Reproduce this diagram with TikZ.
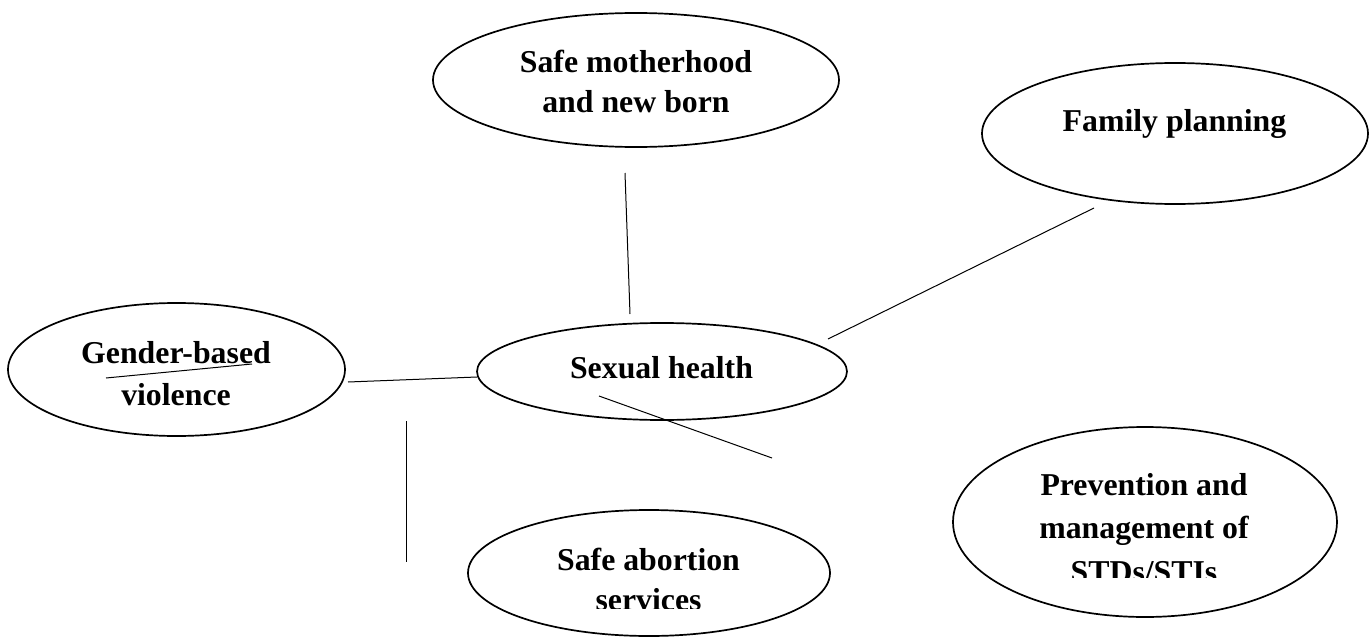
\documentclass[tikz,border=0pt]{standalone}
\usepackage{fontspec}
\setmainfont{Liberation Serif}
\usetikzlibrary{shapes.geometric}
\tikzset{
  bubble/.style={draw, ellipse, line width=1.7pt, inner sep=0pt},
  lbl/.style={anchor=base, inner sep=0pt, font=\fontsize{31.8}{38}\selectfont\bfseries},
  conn/.style={line width=1pt},
}
\begin{document}
\begin{tikzpicture}[x=1pt,y=-1pt]
\useasboundingbox (0,0) rectangle (1369,637);
% ellipses
\node[bubble, minimum width=406pt, minimum height=134pt] (mother) at (636,80) {};
\node[bubble, minimum width=386pt, minimum height=141pt] (family) at (1175,133.5) {};
\node[bubble, minimum width=337pt, minimum height=133pt] (gbv) at (176.5,369.5) {};
\node[bubble, minimum width=370pt, minimum height=97pt] (sexual) at (662,371.5) {};
\node[bubble, minimum width=362pt, minimum height=126pt] (abort) at (649,573) {};
\node[bubble, minimum width=384pt, minimum height=190pt] (prev) at (1145,522) {};
% labels
\node[lbl] (motherA) at (636,72) {Safe motherhood};
\node[lbl] (motherB) at (636,112) {and new born};
\node[lbl] (familyA) at (1174.5,131) {Family planning};
\node[lbl] (gbvA) at (176,363) {Gender-based};
\node[lbl] (gbvB) at (176,405) {violence};
\node[lbl] (sexualA) at (661.5,378) {Sexual health};
\node[lbl] (abortA) at (648.5,570) {Safe abortion};
\begin{scope}
\clip (560,580) rectangle (740,608.5);
\node[lbl] (abortB) at (648.5,610) {services};
\end{scope}
\node[lbl] (prevA) at (1144,495) {Prevention and};
\node[lbl] (prevB) at (1144,538) {management of};
\begin{scope}
\clip (1030,550) rectangle (1260,577);
\node[lbl] (prevC) at (1144,582) {STDs/STIs};
\end{scope}
% free line ends
\coordinate (m1) at (625,173);
\coordinate (m2) at (630,314);
\coordinate (f1) at (828,339);
\coordinate (f2) at (1094,208);
\coordinate (g1) at (348,382);
\coordinate (g2) at (477,377);
\coordinate (s1) at (599,396);
\coordinate (s2) at (772,458);
\coordinate (v1) at (406,421);
\coordinate (v2) at (406,562);
\coordinate (u1) at (106,378);
\coordinate (u2) at (252,364);
% connectors
\draw[conn] (m1) -- (m2);
\draw[conn] (f1) -- (f2);
\draw[conn] (g1) -- (g2);
\draw[conn] (s1) -- (s2);
\draw[conn] (v1) -- (v2);
\draw[conn] (u1) -- (u2);
\end{tikzpicture}
\end{document}
